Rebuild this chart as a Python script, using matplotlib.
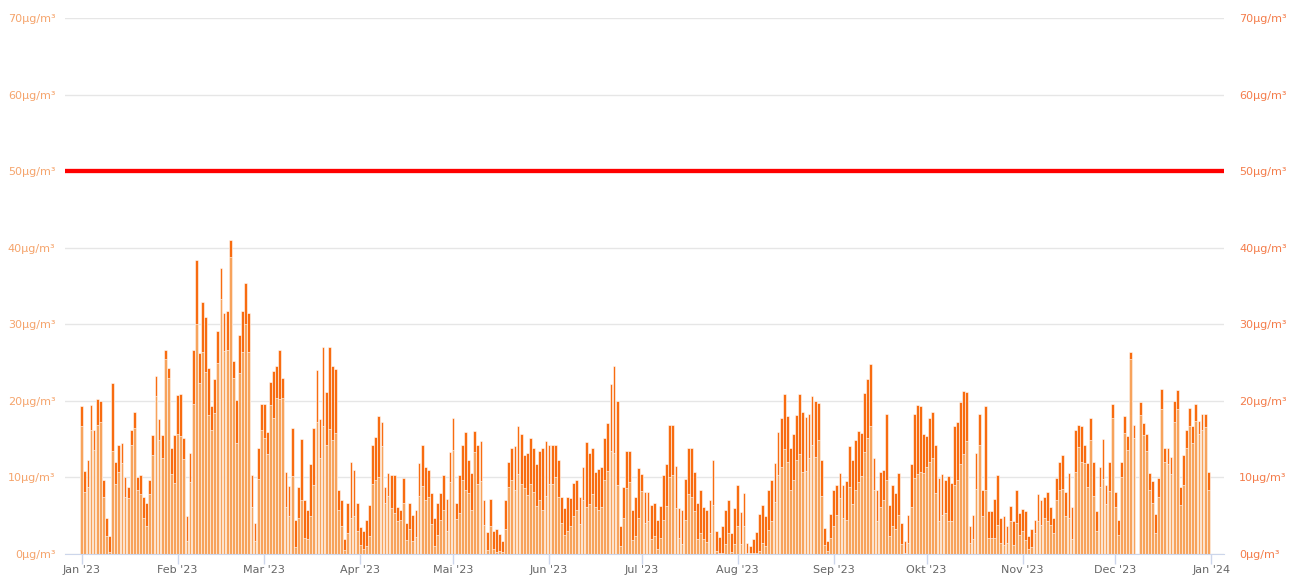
import numpy as np
import pandas as pd
import matplotlib
matplotlib.use("Agg")
import matplotlib.pyplot as plt
import matplotlib.dates as mdates

# daily values 2023, total column height and the lower (light) part, in µg/m³
total = [
	19.3, 10.9, 12.3, 19.4, 16.2, 20.2, 20.0, 9.7, 4.7, 2.3,
	22.3, 12.0, 14.2, 14.5, 10.0, 8.7, 16.2, 18.5, 10.0, 10.3,
	7.5, 6.7, 9.7, 15.5, 23.2, 17.6, 15.5, 26.7, 24.3, 13.8,
	15.5, 20.8, 20.9, 15.1, 4.9, 13.2, 26.6, 38.4, 26.2, 32.9,
	30.9, 24.3, 19.3, 22.8, 29.1, 37.3, 31.5, 31.8, 41.0, 25.2,
	20.1, 28.6, 31.8, 35.4, 31.5, 10.3, 4.0, 13.9, 19.6, 19.6,
	15.9, 22.5, 23.9, 24.6, 26.7, 23.0, 10.7, 8.9, 16.5, 4.5,
	8.7, 15.0, 7.0, 5.8, 11.7, 16.5, 24.0, 17.6, 27.0, 21.1,
	27.0, 24.6, 24.1, 8.4, 7.0, 1.9, 6.7, 12.0, 11.0, 6.6,
	3.5, 3.0, 4.5, 6.4, 14.2, 15.3, 18.0, 17.3, 8.8, 10.6,
	10.3, 10.3, 6.1, 5.8, 9.9, 4.1, 6.7, 5.1, 5.7, 11.9,
	14.2, 11.3, 11.0, 8.0, 4.7, 6.7, 8.0, 10.3, 7.2, 13.3,
	17.7, 6.7, 10.3, 14.3, 15.9, 12.3, 10.6, 16.0, 14.3, 14.8,
	7.0, 2.9, 7.2, 3.0, 3.3, 2.6, 1.7, 7.0, 12.0, 13.9,
	14.1, 16.7, 15.7, 12.9, 13.2, 15.1, 13.9, 11.7, 13.5, 13.9,
	14.8, 14.3, 14.2, 14.2, 12.3, 7.5, 6.0, 7.5, 7.3, 9.3,
	9.7, 7.5, 11.3, 14.6, 13.2, 13.9, 10.7, 11.1, 11.3, 15.1,
	17.1, 22.2, 24.5, 20.0, 3.7, 8.7, 13.5, 13.5, 5.7, 7.4,
	11.2, 10.4,
	8.1, 8.1, 6.4, 6.7, 4.4, 6.3, 10.3, 11.7, 16.8, 16.8,
	11.5, 6.0, 5.7, 9.8, 13.9, 13.8, 10.7, 6.7, 8.3, 6.1,
	5.8, 7.0, 12.3, 3.0, 2.2, 3.6, 5.8, 7.0, 2.7, 6.0,
	9.0, 5.5, 8.0, 1.4, 1.0, 1.9, 2.9, 5.2, 6.4, 4.9,
	8.4, 9.7, 11.9, 15.9, 17.8, 20.9, 18.0, 13.9, 15.7, 18.2,
	20.9, 18.6, 17.9, 18.3, 20.6, 20.0, 19.7, 12.3, 3.4, 1.7,
	5.2, 8.3,
	9.0, 10.6, 9.0, 9.5, 14.1, 12.3, 14.9, 16.0, 15.8, 21.0,
	22.8, 24.8, 12.6, 8.4, 10.7, 11.0, 18.3, 6.4, 9.0, 8.0,
	10.6, 4.1, 1.7, 5.1, 11.7, 18.3, 19.4, 19.3, 15.7, 15.4,
	17.8, 18.5, 14.3, 9.9, 10.4, 9.7, 10.2, 9.3, 16.7, 17.3,
	19.9, 21.3, 21.1, 3.7, 5.1, 13.2, 18.3, 8.4, 19.3, 5.6,
	5.6, 7.2, 10.3, 4.7, 4.9, 3.7, 6.3, 4.3, 8.3, 5.3,
	5.9,
	5.6, 2.3, 3.3, 4.5, 7.8, 7.1, 7.5, 8.1, 6.1, 4.7,
	9.9, 12.0, 12.9, 8.1, 10.6, 6.2, 16.2, 16.8, 16.7, 14.2,
	11.9, 17.8, 12.0, 5.6, 11.4, 15.0, 9.0, 12.0, 19.6, 8.1,
	4.5, 12.0, 18.0, 15.4, 26.4, 16.8, np.nan, 19.9, 17.1, 15.7,
	10.6, 9.5, 5.2, 9.9, 21.5, 13.9, 13.9, 12.7, 20.0, 21.4,
	8.8, 12.9, 16.2, 19.1, 16.7, 19.6, 17.4, 18.3, 18.3, 10.7,
]

fine = [
	16.7, 8.1, 8.8, 16.2, 13.6, 16.9, 17.3, 7.5, 2.4, 0.2,
	13.4, 9.1, 10.7, 11.9, 7.5, 7.3, 14.3, 16.5, 8.3, 7.9,
	4.7, 3.6, 7.9, 12.9, 20.6, 14.9, 12.6, 25.5, 23.0, 10.5,
	9.3, 15.7, 15.4, 12.4, 1.7, 9.4, 19.6, 30.0, 22.3, 26.4,
	23.8, 18.2, 16.2, 18.4, 24.9, 33.3, 26.5, 26.7, 38.8, 23.0,
	14.5, 23.6, 26.4, 30.1, 26.4, 6.2, 1.7, 9.8, 16.2, 15.2,
	13.0, 19.5, 17.8, 20.4, 20.2, 20.4, 6.2, 5.0, 10.2, 0.9,
	4.7, 7.1, 2.1, 1.9, 5.0, 9.0, 17.2, 12.5, 16.7, 14.2,
	16.3, 14.9, 15.8, 5.7, 3.6, 0.5, 2.8, 4.7, 4.9, 3.0,
	1.2, 0.7, 1.0, 2.4, 9.1, 9.7, 10.0, 14.1, 6.7, 7.6,
	6.0, 5.3, 4.3, 4.5, 6.7, 1.8, 3.2, 1.7, 2.2, 7.6,
	8.9, 7.1, 7.4, 3.9, 1.0, 2.5, 4.5, 5.8, 3.0, 9.4,
	13.6, 4.6, 5.3, 9.7, 8.3, 8.0, 5.8, 13.3, 9.1, 9.5,
	3.8, 0.5, 3.6, 0.7, 0.3, 0.4, 0.2, 3.2, 8.7, 9.6,
	8.3, 10.4, 9.1, 8.6, 7.7, 9.2, 8.1, 6.3, 7.0, 5.7,
	7.6, 9.1, 9.1, 10.1, 7.5, 4.0, 2.5, 3.0, 3.6, 5.0,
	5.7, 3.9, 7.0, 6.2, 6.5, 7.8, 6.2, 5.7, 6.2, 9.6,
	10.8, 13.4, 13.2, 9.0, 1.0, 4.7, 8.6, 9.4, 1.8, 2.3,
	4.7, 8.2,
	4.0, 4.3, 2.0, 2.4, 0.7, 2.1, 4.5, 6.3, 10.0, 10.3,
	6.0, 2.1, 1.3, 4.4, 7.9, 7.4, 5.6, 2.0, 2.8, 2.0,
	1.6, 2.8, 6.4, 0.4, 0.1, 0.1, 1.3, 2.7, 0.3, 1.3,
	3.6, 1.3, 3.6, 0.1, 0.1, 0.1, 0.1, 0.4, 1.4, 1.1,
	3.1, 4.3, 6.8, 10.3, 11.4, 13.7, 12.0, 8.3, 9.7, 12.3,
	13.0, 10.7, 10.8, 12.6, 14.3, 12.7, 14.9, 7.6, 1.2, 0.4,
	2.1, 3.6,
	5.1, 7.3, 4.7, 4.5, 8.8, 6.5, 8.3, 9.4, 10.2, 13.3,
	15.2, 16.7, 8.3, 4.3, 6.2, 7.0, 9.7, 2.4, 3.6, 3.2,
	5.1, 1.3, 0.1, 1.5, 6.2, 9.9, 10.5, 10.7, 10.6, 11.4,
	12.0, 12.5, 8.0, 4.3, 5.1, 5.3, 4.3, 4.3, 9.0, 9.7,
	11.7, 13.1, 14.7, 1.5, 2.0, 8.5, 14.3, 5.0, 8.3, 2.1,
	2.1, 2.1, 3.8, 1.5, 1.2, 1.5, 4.3, 1.2, 4.1, 2.5,
	3.0,
	1.8, 0.7, 0.9, 2.8, 4.3, 3.8, 4.7, 4.3, 3.8, 2.8,
	7.1, 8.3, 8.5, 4.9, 4.7, 2.0, 10.7, 14.0, 12.0, 11.9,
	8.8, 14.9, 7.6, 3.0, 8.8, 9.8, 6.5, 8.2, 17.8, 6.2,
	2.5, 10.0, 15.8, 13.6, 25.5, 15.2, np.nan, 18.1, 15.5, 13.4,
	8.3, 6.6, 2.8, 7.4, 19.0, 12.0, 11.7, 10.5, 17.2, 19.0,
	6.4, 9.0, 13.8, 16.7, 14.5, 17.4, 15.7, 16.2, 16.6, 8.3,
]

month_labels = ["Jan '23", "Feb '23", "Mar '23", "Apr '23", "Mai '23", "Jun '23", "Jul '23",
				"Aug '23", "Sep '23", "Okt '23", "Nov '23", "Dec '23", "Jan '24"]
y_ticks = [0, 10, 20, 30, 40, 50, 60, 70]
limit = 50

dark = "#f86c10"
light = "#f7a35c"

days = pd.date_range("2023-01-01", periods=len(total), freq="D")
month_starts = pd.date_range("2023-01-01", "2024-01-01", freq="MS")

W, H = 1289, 578
fig = plt.figure(figsize=(W / 100, H / 100), dpi=100)
ax = fig.add_axes([65 / W, (H - 554) / H, (1224 - 65) / W, (554 - 18) / H])

ax.bar(days, total, width=0.9, color=dark, edgecolor="white", linewidth=0.4, zorder=2)
ax.bar(days, fine, width=0.9, color=light, edgecolor="white", linewidth=0.4, zorder=2)
ax.axhline(limit, color="#ff0000", linewidth=3.1, zorder=3)

x0 = mdates.date2num(days[0])
ax.set_xlim(x0 - 5.4, x0 + 369.1)
ax.set_ylim(0, 70)

ax.set_yticks(y_ticks)
ax.set_yticklabels([f"{v}µg/m³" for v in y_ticks])
ax.tick_params(axis="y", length=0, pad=7, labelsize=8, labelcolor="#f5a46c")
ax.yaxis.grid(True, color="#e6e6e6", linewidth=1)
ax.set_axisbelow(True)

ax.set_xticks(month_starts)
ax.set_xticklabels(month_labels)
ax.tick_params(axis="x", length=7, width=1, color="#ccd6eb", pad=1, labelsize=8, labelcolor="#666666")

for s in ["top", "left", "right"]:
	ax.spines[s].set_visible(False)
ax.spines["bottom"].set_color("#ccd6eb")

ax2 = ax.twinx()
ax2.set_ylim(0, 70)
ax2.set_yticks(y_ticks)
ax2.set_yticklabels([f"{v}µg/m³" for v in y_ticks])
ax2.tick_params(axis="y", length=0, pad=11, labelsize=8, labelcolor="#f47c4a")
for s in ax2.spines.values():
	s.set_visible(False)

fig.savefig("out.png", dpi=100)
